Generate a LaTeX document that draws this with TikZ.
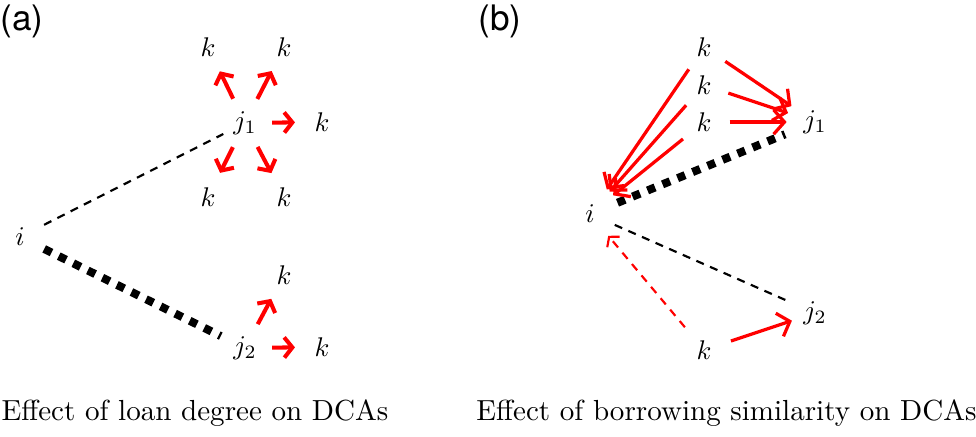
\documentclass[tikz,border=0pt]{standalone}
\usepackage{fontspec}
\newfontfamily\panelfont{TeX Gyre Heros}
\usetikzlibrary{arrows.meta}
\tikzset{
	tie/.style={black, line width=0.8pt, dash pattern=on 3pt off 2.5pt},
	strongtie/.style={black, line width=3pt, dash pattern=on 3pt off 3pt},
	effect/.style={red, line width=1.5pt, -{Straight Barb[length=3pt,width=7.5pt]}},
	borrow/.style={red, line width=1.2pt, -{Straight Barb[length=4pt,width=9pt]}},
	weak/.style={red, line width=0.8pt, dash pattern=on 3pt off 2.5pt, -{Straight Barb[length=2.5pt,width=6pt]}},
	caption/.style={font=\fontsize{10.75}{13}\selectfont}
}

\begin{document}
\begin{tikzpicture}[x=3.7pt,y=-3.7pt]
	\useasboundingbox (0,0) rectangle (97.6,43.6);
	% (a)
	\node (taga) at (2.2,2.1) {\panelfont\fontsize{13}{15}\selectfont (a)};
	\node (ia) at (2,23.7) {$i$};
	\node (j1a) at (24.5,12.3) {$j_1$};
	\node (j2a) at (24.5,34.8) {$j_2$};
	\foreach \n/\x/\y in {1/20.8/4.7, 2/28.4/4.7, 3/32.2/12.2, 4/20.8/19.7, 5/28.4/19.7, 6/28.4/27.5, 7/32.2/34.7}
		\node (ka\n) at (\x,\y) {$k$};
	\draw[tie, shorten <=10pt, shorten >=9pt] (ia.center) -- (j1a.center);
	\draw[strongtie, shorten <=10pt, shorten >=10pt] (ia.center) -- (j2a.center);
	\foreach \n in {1,...,5}
		\draw[effect, shorten <=10pt, shorten >=10pt] (j1a.center) -- (ka\n.center);
	\foreach \n in {6,7}
		\draw[effect, shorten <=10pt, shorten >=10pt] (j2a.center) -- (ka\n.center);
	\node[caption] (capa) at (19.5,41.3) {Effect of loan degree on DCAs};
	% (b)
	\node (tagb) at (50.0,2.1) {\panelfont\fontsize{13}{15}\selectfont (b)};
	\node (ib) at (59.0,21.4) {$i$};
	\node (j1b) at (81.5,12.2) {$j_1$};
	\node (j2b) at (81.5,31.3) {$j_2$};
	\foreach \n/\y in {1/4.7, 2/8.5, 3/12.2, 4/35.0}
		\node (kb\n) at (70.4,\y) {$k$};
	\draw[strongtie, shorten <=11pt, shorten >=12pt] (ib.center) -- (j1b.center);
	\draw[tie, shorten <=10pt, shorten >=12pt] (ib.center) -- (j2b.center);
	\foreach \n in {1,2,3} {
		\draw[borrow, shorten <=9.5pt, shorten >=10.5pt] (kb\n.center) -- (j1b.center);
		\draw[borrow, shorten <=10pt, shorten >=11pt] (kb\n.center) -- (ib.center);
	}
	\draw[weak, shorten <=11pt, shorten >=10.5pt] (kb4.center) -- (ib.center);
	\draw[borrow, shorten <=10.5pt, shorten >=9pt] (kb4.center) -- (j2b.center);
	\node[caption] (capb) at (72.65,41.3) {Effect of borrowing similarity on DCAs};
\end{tikzpicture}
\end{document}
